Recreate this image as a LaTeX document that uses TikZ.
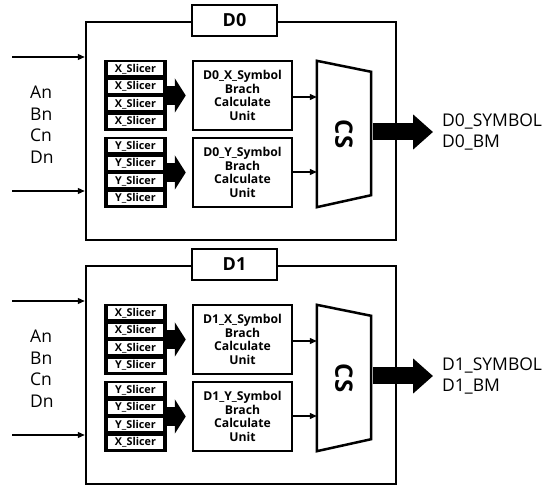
\documentclass[tikz,border=0pt]{standalone}
\usepackage{fontspec}
\setmainfont{Open Sans}
\usetikzlibrary{positioning, arrows.meta}

\tikzset{
  frame/.style={draw, line width=2.5pt, minimum width=310pt, minimum height=218pt, inner sep=0pt},
  title/.style={draw, fill=white, line width=2.5pt, minimum width=85pt, minimum height=31pt, inner sep=0pt, font=\fontsize{18}{18}\selectfont\bfseries},
  group/.style={fill=black, minimum width=63pt, minimum height=71pt, inner sep=0pt},
  slicer/.style={fill=white, minimum width=55pt, minimum height=13pt, inner sep=0pt, font=\fontsize{10.8}{10.8}\selectfont\bfseries},
  unit/.style={draw, line width=2.5pt, minimum width=99pt, minimum height=69pt, inner sep=0pt, align=center, font=\fontsize{12.2}{13.7}\selectfont\bfseries},
  fat/.style={line width=19pt, shorten >=6pt, -{Triangle[length=11pt, width=34pt]}},
  fatout/.style={line width=17pt, -{Triangle[length=20pt, width=34pt]}},
  thin/.style={line width=1.2pt, -{Triangle[length=7pt, width=6pt]}},
  txt/.style={anchor=west, align=left, inner sep=0pt, font=\fontsize{17.5}{21.5}\selectfont},
}

\begin{document}
\begin{tikzpicture}[x=1pt, y=-1pt]
  \useasboundingbox (0,0) rectangle (558,486);
  \foreach \k/\dy/\xs/\ys in {0/0/{X,X,X,X}/{Y,Y,Y,Y}, 1/244/{X,X,X,Y}/{Y,Y,Y,X}} {
    \begin{scope}[shift={(0,\dy)}]
      % block frame and title
      \node[frame] (f\k) at (241,131) {};
      \node[title] (t\k) at (234.5,20.5) {D\k};
      % inputs
      \coordinate (ia\k) at (12,57);
      \coordinate (ib\k) at (12,191);
      \draw[thin] (ia\k) -- (ia\k -| f\k.west);
      \draw[thin] (ib\k) -- (ib\k -| f\k.west);
      \node[txt] (in\k) at (30,124.5) {An\\Bn\\Cn\\Dn};
      % slicers
      \node[group] (gx\k) at (135.5,95.5) {};
      \node[group] (gy\k) at (135.5,172.5) {};
      \foreach \s [count=\i] in \xs
        \node[slicer] (sx\k\i) at (135.5,51.5+17.5*\i) {\s\_Slicer};
      \foreach \s [count=\i] in \ys
        \node[slicer] (sy\k\i) at (135.5,128.5+17.5*\i) {\s\_Slicer};
      % symbol units
      \node[unit] (ux\k) at (242.5,95.5) {D\k\_X\_Symbol\\Brach\\Calculate\\Unit};
      \node[unit] (uy\k) at (242.5,172.5) {D\k\_Y\_Symbol\\Brach\\Calculate\\Unit};
      \draw[fat] (gx\k.east) -- (ux\k.west);
      \draw[fat] (gy\k.east) -- (uy\k.west);
      % CS selector
      \node[minimum width=54pt, minimum height=146pt, inner sep=0pt] (cs\k) at (344,134) {};
      \draw[line width=2.5pt, line join=miter] (cs\k.north west) -- ([yshift=-11pt]cs\k.north east)
        -- ([yshift=12pt]cs\k.south east) -- (cs\k.south west) -- cycle;
      \node[rotate=-90, font=\fontsize{24}{24}\selectfont\bfseries] at (cs\k) {CS};
      \draw[thin] ([yshift=-1.5pt]ux\k.east) -- ([yshift=-1.5pt]ux\k.east -| cs\k.west);
      \draw[thin] ([yshift=0.5pt]uy\k.east) -- ([yshift=0.5pt]uy\k.east -| cs\k.west);
      % output
      \node[txt] (out\k) at (442,132) {D\k\_SYMBOL\\D\k\_BM};
      \draw[fatout] ([xshift=2pt]cs\k.east |- out\k.west) -- ([xshift=-9pt]out\k.west);
    \end{scope}
  }
\end{tikzpicture}
\end{document}
